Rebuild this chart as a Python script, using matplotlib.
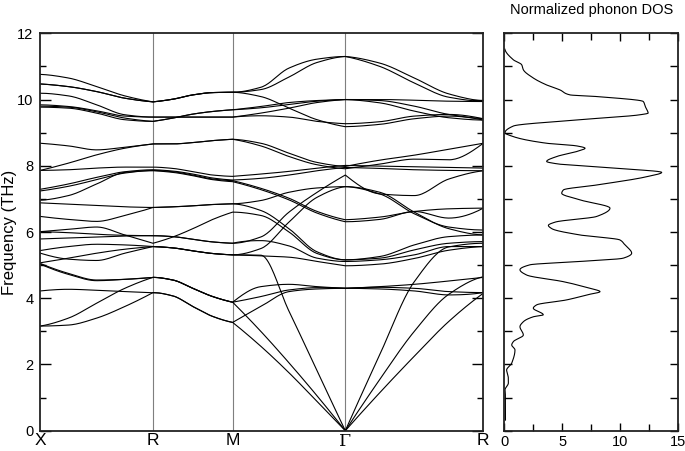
import numpy as np
import matplotlib
matplotlib.use('Agg')
import matplotlib.pyplot as plt
from matplotlib.ticker import MultipleLocator

plt.rcParams['font.family'] = ['Liberation Sans', 'DejaVu Sans']

# ---------------- data ----------------
path_labels = ['X', 'R', 'M', 'Γ', 'R']
seg_lengths = [np.sqrt(2) / 2, 0.5, np.sqrt(2) / 2, np.sqrt(3) / 2]
seg_fracs = [0.0, 0.25, 0.5, 0.75, 1.0]

# Band values at X, 1/4, 1/2, 3/4, R, ..., M, ..., Gamma, ..., R (THz)
U1 = [10.76, 10.65, 10.39, 10.11, 9.93, 10.01, 10.14, 10.21, 10.22, 10.37, 10.95, 11.22, 11.30, 11.10, 10.65, 10.17, 9.96]
U2 = [10.47, 10.39, 10.24, 10.04, 9.93, 10.01, 10.14, 10.21, 10.22, 10.30, 10.68, 11.12, 11.30, 11.00, 10.50, 10.07, 9.95]
U3 = [9.80, 9.77, 9.63, 9.44, 9.34, 9.44, 9.56, 9.64, 9.69, 9.79, 9.91, 9.97, 10.00, 9.97, 9.80, 9.55, 9.42]
U4 = [9.77, 9.74, 9.59, 9.39, 9.34, 9.44, 9.56, 9.64, 9.69, 9.75, 9.85, 9.95, 10.00, 10.00, 9.98, 9.95, 9.94]
U5 = [10.19, 10.11, 9.84, 9.54, 9.47, 9.47, 9.47, 9.47, 9.47, 9.51, 9.47, 9.34, 9.27, 9.33, 9.50, 9.55, 9.42]
U6 = [9.84, 9.79, 9.66, 9.50, 9.47, 9.47, 9.47, 9.47, 9.47, 9.59, 9.74, 9.91, 10.00, 9.90, 9.65, 9.45, 9.38]
U7 = [10.47, 10.39, 10.24, 10.04, 9.93, 10.01, 10.14, 10.21, 10.22, 10.09, 9.74, 9.39, 9.18, 9.25, 9.42, 9.50, 9.38]

P1 = [8.68, 8.60, 8.48, 8.56, 8.66, 8.66, 8.70, 8.76, 8.80, 8.68, 8.38, 8.10, 7.98, 8.17, 8.32, 8.50, 8.68]
P2 = [7.86, 8.08, 8.33, 8.53, 8.66, 8.66, 8.70, 8.76, 8.80, 8.60, 8.28, 8.03, 7.91, 8.05, 8.20, 8.18, 8.68]
M1 = [7.86, 7.88, 7.93, 7.96, 7.96, 7.92, 7.82, 7.72, 7.68, 7.75, 7.83, 7.93, 8.01, 7.99, 7.97, 7.95, 7.93]
M4 = [7.29, 7.45, 7.65, 7.82, 7.88, 7.84, 7.75, 7.63, 7.57, 7.62, 7.72, 7.85, 7.95, 7.92, 7.88, 7.86, 7.85]
M5 = [7.24, 7.38, 7.58, 7.78, 7.86, 7.82, 7.72, 7.60, 7.55, 7.32, 7.02, 6.62, 6.37, 6.45, 6.62, 6.70, 6.72]
M6 = [6.96, 7.10, 7.45, 7.80, 7.85, 7.80, 7.70, 7.58, 7.52, 7.28, 6.97, 6.57, 6.31, 6.38, 6.62, 6.42, 6.72]
C1 = [6.88, 6.84, 6.80, 6.76, 6.74, 6.76, 6.79, 6.83, 6.85, 6.65, 6.10, 5.40, 5.16, 5.26, 5.61, 5.86, 5.91]
C2 = [6.47, 6.38, 6.32, 6.50, 6.74, 6.76, 6.79, 6.83, 6.85, 6.95, 7.20, 7.33, 7.37, 7.20, 6.60, 6.10, 5.91]
D1 = [6.01, 6.08, 6.15, 5.91, 5.66, 5.85, 6.10, 6.38, 6.60, 6.50, 6.00, 5.35, 5.16, 5.21, 5.46, 5.66, 5.71]
F1 = [6.01, 5.98, 5.93, 5.90, 5.89, 5.86, 5.78, 5.70, 5.66, 5.85, 6.60, 7.20, 7.72, 7.15, 7.10, 7.60, 7.85]
F2 = [5.79, 5.82, 5.85, 5.88, 5.89, 5.86, 5.78, 5.70, 5.66, 5.74, 5.58, 5.21, 5.11, 5.16, 5.31, 5.56, 5.56]
G1 = [5.44, 5.56, 5.63, 5.61, 5.56, 5.52, 5.43, 5.35, 5.31, 5.30, 3.61, 1.80, 0.00, 2.30, 4.50, 5.55, 5.66]
G2 = [5.36, 5.18, 5.14, 5.36, 5.56, 5.52, 5.43, 5.35, 5.31, 5.28, 5.24, 5.11, 4.98, 5.03, 5.20, 5.45, 5.56]
G3 = [5.07, 5.21, 5.36, 5.48, 5.56, 5.52, 5.43, 5.35, 5.31, 5.50, 6.30, 7.05, 7.37, 7.15, 6.55, 6.15, 6.06]

A1 = [3.16, 3.19, 3.40, 3.75, 4.17, 4.07, 3.75, 3.45, 3.27, 2.55, 1.75, 0.88, 0.00, 1.15, 2.25, 3.30, 4.15]
A2 = [3.16, 3.40, 3.85, 4.30, 4.63, 4.55, 4.30, 4.05, 3.88, 4.35, 4.42, 4.35, 4.30, 4.35, 4.42, 4.52, 4.63]
A3 = [4.22, 4.27, 4.24, 4.20, 4.17, 4.07, 3.75, 3.45, 3.27, 3.75, 4.20, 4.28, 4.30, 4.33, 4.30, 4.20, 4.17]
B1 = [5.05, 4.75, 4.55, 4.57, 4.63, 4.55, 4.30, 4.05, 3.88, 3.00, 2.05, 1.05, 0.00, 1.55, 3.00, 4.12, 4.65]
B2 = [5.03, 4.72, 4.53, 4.57, 4.63, 4.55, 4.30, 4.05, 3.88, 4.05, 4.25, 4.32, 4.30, 4.28, 4.22, 4.10, 4.17]

bands = [U1, U2, U3, U4, U5, U6, U7, P1, P2, M1, M4, M5, M6, C1, C2, D1, F1, F2,
         G1, G2, G3, A1, A2, A3, B1, B2]

dos_freq = [0.32, 0.53, 1.03, 1.23, 1.44, 1.58, 1.83, 2.04, 2.44, 2.59, 2.69, 2.89, 3.14, 3.29,
            3.44, 3.50, 3.70, 3.80, 3.95, 4.10, 4.20, 4.30, 4.50, 4.70, 4.86, 5.01, 5.11, 5.21,
            5.36, 5.61, 5.76, 5.91, 6.10, 6.20, 6.30, 6.47, 6.72, 6.97, 7.17, 7.27, 7.42, 7.67,
            7.80, 7.93, 8.06, 8.13, 8.28, 8.43, 8.53, 8.60, 8.68, 8.88, 9.00, 9.20, 9.39, 9.54,
            9.59, 9.75, 9.94, 10.09, 10.14, 10.29, 10.44, 10.65, 10.90, 11.05, 11.20, 11.52]
dos_val = [0.10, 0.10, 0.10, 0.06, 0.35, 0.35, 0.20, 0.64, 0.92, 0.64, 0.78, 1.64, 1.35, 1.64,
           2.50, 3.36, 2.50, 2.79, 5.38, 7.10, 8.25, 7.39, 5.09, 1.93, 1.35, 2.22, 6.53, 10.26,
           10.98, 10.40, 9.97, 6.53, 4.10, 3.80, 4.40, 7.97, 9.11, 6.53, 4.95, 5.09, 7.97, 12.28,
           13.57, 9.40, 4.52, 3.65, 4.52, 6.24, 6.96, 6.24, 3.65, 0.78, 0.06, 0.78, 6.50, 11.70,
           12.40, 12.20, 11.98, 7.97, 5.66, 4.80, 3.65, 2.50, 1.64, 1.50, 0.78, 0.05]


# ---------------- helpers ----------------
def pchip(x, y, xn):
    x = np.asarray(x, float)
    y = np.asarray(y, float)
    h = np.diff(x)
    delta = np.diff(y) / h
    n = len(x)
    d = np.zeros(n)
    for k in range(1, n - 1):
        if delta[k - 1] * delta[k] > 0:
            w1 = 2 * h[k] + h[k - 1]
            w2 = h[k] + 2 * h[k - 1]
            d[k] = (w1 + w2) / (w1 / delta[k - 1] + w2 / delta[k])

    def end(h0, h1, d0, d1):
        s = ((2 * h0 + h1) * d0 - h0 * d1) / (h0 + h1)
        if np.sign(s) != np.sign(d0):
            s = 0.0
        elif np.sign(d0) != np.sign(d1) and abs(s) > abs(3 * d0):
            s = 3 * d0
        return s

    if n > 2:
        d[0] = end(h[0], h[1], delta[0], delta[1])
        d[-1] = end(h[-1], h[-2], delta[-1], delta[-2])
    else:
        d[:] = delta[0]
    idx = np.clip(np.searchsorted(x, xn) - 1, 0, n - 2)
    t = (xn - x[idx]) / h[idx]
    h00 = 2 * t**3 - 3 * t**2 + 1
    h10 = t**3 - 2 * t**2 + t
    h01 = -2 * t**3 + 3 * t**2
    h11 = t**3 - t**2
    return h00 * y[idx] + h10 * h[idx] * d[idx] + h01 * y[idx + 1] + h11 * h[idx] * d[idx + 1]


nodes = np.concatenate([[0.0], np.cumsum(seg_lengths)])

# ---------------- figure ----------------
W, H = 685, 451
fig = plt.figure(figsize=(W / 100, H / 100), dpi=100)
ax = fig.add_axes([40.3 / W, (H - 430.7) / H, (483.3 - 40.3) / W, (430.7 - 33.3) / H])
ax2 = fig.add_axes([504.3 / W, (H - 430.7) / H, (678.3 - 504.3) / W, (430.7 - 33.3) / H])

for xv in nodes[1:-1]:
    ax.axvline(xv, color='#7f7f7f', lw=0.8, zorder=1)

for band in bands:
    xs_all, ys_all = [], []
    for s in range(4):
        vals = band[4 * s:4 * s + 5]
        xk = nodes[s] + np.array(seg_fracs) * seg_lengths[s]
        xf = np.linspace(xk[0], xk[-1], 80)
        xs_all.append(xf)
        ys_all.append(pchip(xk, vals, xf))
    ax.plot(np.concatenate(xs_all), np.concatenate(ys_all), color='black', lw=0.8, zorder=2)

ax.set_xlim(nodes[0], nodes[-1])
ax.set_ylim(0, 12)
ax.set_xticks(nodes)
ax.set_xticklabels(path_labels, fontsize=12.5)
for i, lab in enumerate(ax.get_xticklabels()):
    if path_labels[i] == 'Γ':
        lab.set_family(['DejaVu Serif'])
ax.tick_params(axis='x', length=0, pad=2)
ax.yaxis.set_major_locator(MultipleLocator(2))
ax.yaxis.set_minor_locator(MultipleLocator(1))
ax.tick_params(axis='y', which='both', direction='in', left=True, right=True, labelsize=10.5, pad=5)
ax.tick_params(axis='y', which='major', length=8, width=1)
ax.tick_params(axis='y', which='minor', length=4.5, width=1)
ax.set_ylabel('Frequency (THz)', fontsize=12)
ax.yaxis.set_label_coords(-0.052, 0.5)

# DOS panel
fq = np.linspace(dos_freq[0], dos_freq[-1], 1500)
ax2.plot(pchip(dos_freq, dos_val, fq), fq, color='black', lw=0.8)
ax2.set_xlim(0, 15)
ax2.set_ylim(0, 12)
ax2.xaxis.set_major_locator(MultipleLocator(5))
ax2.xaxis.set_minor_locator(MultipleLocator(2.5))
ax2.yaxis.set_major_locator(MultipleLocator(1))
ax2.set_yticklabels([])
ax2.tick_params(axis='x', which='both', direction='in', top=True, bottom=True, labelsize=10.5, pad=3)
ax2.tick_params(axis='x', which='major', length=6, width=1)
ax2.tick_params(axis='x', which='minor', length=5, width=1)
ax2.tick_params(axis='y', which='major', direction='in', left=True, right=True, length=5.5, width=1)
fig.text(591.3 / W, 1 - 10 / H, 'Normalized phonon DOS', ha='center', va='center', fontsize=10.5)

for a in (ax, ax2):
    for sp in a.spines.values():
        sp.set_linewidth(1.3)
        sp.set_color('#222222')

fig.savefig('out.png', dpi=100)
